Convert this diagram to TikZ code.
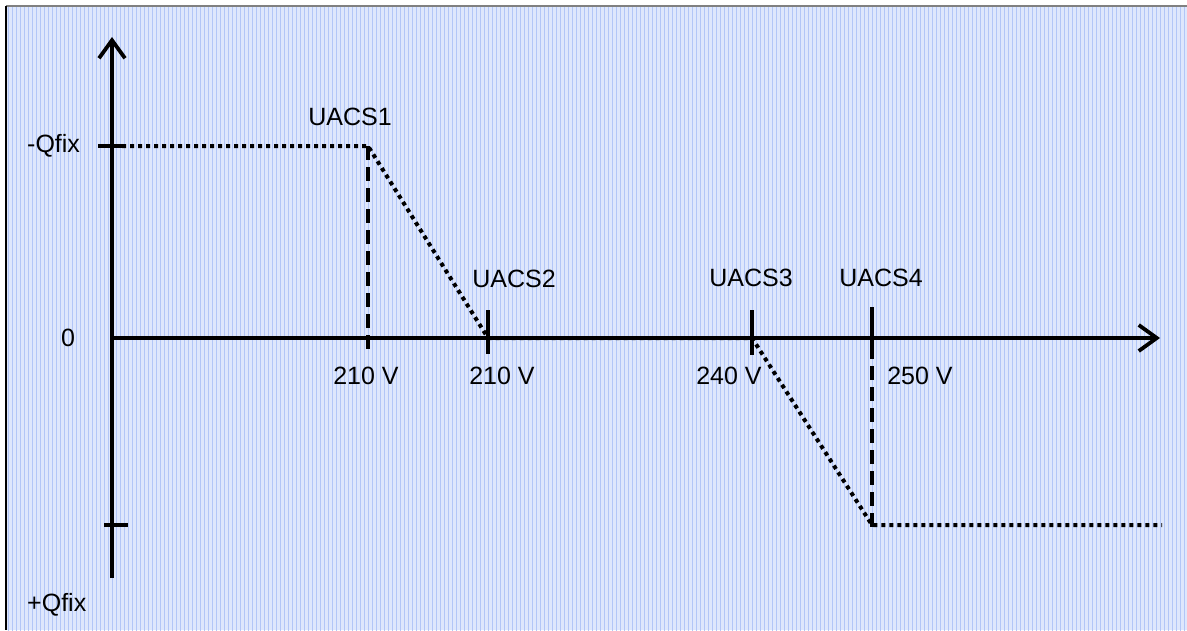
\documentclass[tikz,border=0pt]{standalone}
\usepackage{fontspec}
\setmainfont{Liberation Sans}
\usetikzlibrary{arrows.meta}
\definecolor{gridbg}{RGB}{222,231,252}
\definecolor{gridline}{RGB}{178,198,247}
\tikzset{
	axis/.style = {line width=3.8pt, -{Straight Barb[length=18pt,width=26pt,line width=3.8pt]}},
	tickmark/.style = {line width=3.8pt},
	curve/.style = {line width=4pt, dash pattern=on 4pt off 4pt},
	guide/.style = {line width=3.8pt, dash pattern=on 14pt off 7pt},
	axistext/.style = {font=\fontsize{25}{30}\selectfont, inner sep=0pt}
}

\begin{document}
\begin{tikzpicture}[x=1pt,y=-1pt]
	\useasboundingbox (0,0) rectangle (1187,630);
	% background sheet
	\fill[gridbg] (6,6) rectangle (1187,630);
	\begin{scope}[shift={(0.5,0.5)}]
		\draw[gridline, line width=1pt, step=4] (6,6) grid (1187,630);
	\end{scope}
	\draw[gray, line width=1.5pt] (6,6) -- (1187,6);
	\draw[black, line width=1.5pt] (6,6) -- (6,630);
	% points
	\coordinate (ybot) at (112,578);
	\coordinate (ytop) at (112,37);
	\coordinate (O) at (112,338);
	\coordinate (xend) at (1160,338);
	\coordinate (qneg) at (122,146);
	\coordinate (s1) at (368,146);
	\coordinate (s2) at (488,338);
	\coordinate (s3) at (752,338);
	\coordinate (s4) at (872,525);
	\coordinate (qend) at (1162,525);
	% axes
	\draw[axis] (ybot) -- (ytop);
	\draw[axis] (O) -- (xend);
	% ticks
	\draw[tickmark] (98,146) -- (qneg);
	\draw[tickmark] (104,525) -- (128,525);
	\draw[tickmark] (488,310) -- (488,354);
	\draw[tickmark] (752,310) -- (752,355);
	\draw[tickmark] (872,307) -- (872,345);
	\draw[guide] (s1) -- (368,355);
	\draw[guide] (872,345) -- (872,533);
	% characteristic
	\draw[curve] (qneg) -- (s1) -- (s2) -- (s3) -- (s4) -- (qend);
	% labels
	\node[axistext, anchor=west] (qnegl) at (27,146) {-Qfix};
	\node[axistext] (zero) at (68,338) {0};
	\node[axistext, anchor=west] (qposl) at (27,605) {+Qfix};
	\node[axistext] (u1) at (350,117) {UACS1};
	\node[axistext] (u2) at (514,279) {UACS2};
	\node[axistext] (u3) at (751,278) {UACS3};
	\node[axistext] (u4) at (881,278) {UACS4};
	\node[axistext] (v1) at (366,376) {210 V};
	\node[axistext] (v2) at (502,376) {210 V};
	\node[axistext] (v3) at (729,376) {240 V};
	\node[axistext] (v4) at (920,376) {250 V};
\end{tikzpicture}
\end{document}
